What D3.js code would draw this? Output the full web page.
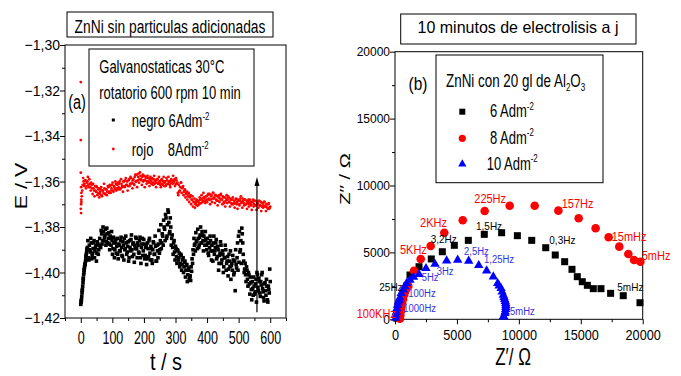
<!DOCTYPE html>
<html><head><meta charset="utf-8">
<script src="https://cdn.jsdelivr.net/npm/d3@7"></script>
<style>
body{margin:0;background:#fff}
svg{display:block}
text{font-family:"Liberation Sans",Arial,sans-serif}
</style>
</head><body>
<svg id="c" width="681" height="376"></svg>
<script>
// ---------------- DATA : panel (a) ----------------
const sampleStep = 3; // s between samples (main arrays at t = 0,3,..,600; half arrays at t = 1.5,4.5,..,598.5)
const blackE = [
-1.4140,-1.4105,-1.4060,-1.4010,-1.3975,-1.3950,-1.3915,-1.3890,-1.3935,-1.3880,
-1.3910,-1.3870,-1.3925,-1.3895,-1.3860,-1.3905,-1.3880,-1.3915,-1.3875,-1.3900,
-1.3850,-1.3890,-1.3830,-1.3860,-1.3820,-1.3845,-1.3810,-1.3865,-1.3830,-1.3850,
-1.3875,-1.3840,-1.3880,-1.3860,-1.3895,-1.3870,-1.3900,-1.3855,-1.3885,-1.3920,
-1.3875,-1.3905,-1.3860,-1.3890,-1.3930,-1.3880,-1.3850,-1.3895,-1.3870,-1.3910,
-1.3865,-1.3935,-1.3890,-1.3855,-1.3900,-1.3875,-1.3920,-1.3880,-1.3845,-1.3895,
-1.3870,-1.3910,-1.3860,-1.3935,-1.3890,-1.3850,-1.3905,-1.3875,-1.3925,-1.3880,
-1.3940,-1.3895,-1.3860,-1.3915,-1.3885,-1.3945,-1.3900,-1.3870,-1.3920,-1.3885,
-1.3950,-1.3905,-1.3875,-1.3915,-1.3860,-1.3895,-1.3830,-1.3880,-1.3800,-1.3860,
-1.3760,-1.3840,-1.3725,-1.3780,-1.3820,-1.3800,-1.3850,-1.3890,-1.3870,-1.3910,
-1.3885,-1.3930,-1.3900,-1.3945,-1.3915,-1.3960,-1.3925,-1.3965,-1.3935,-1.3975,
-1.3950,-1.3990,-1.3965,-1.4010,-1.3980,-1.4025,-1.4035,-1.3995,-1.3960,-1.3920,
-1.3880,-1.3905,-1.3860,-1.3895,-1.3850,-1.3880,-1.3835,-1.3870,-1.3820,-1.3860,
-1.3840,-1.3880,-1.3855,-1.3900,-1.3870,-1.3925,-1.3890,-1.3860,-1.3945,-1.3905,
-1.3870,-1.3920,-1.3890,-1.3855,-1.3930,-1.3900,-1.3960,-1.3915,-1.3880,-1.3945,
-1.3920,-1.3975,-1.3935,-1.3900,-1.3960,-1.3930,-1.3985,-1.3950,-1.3905,-1.3970,
-1.3990,-1.3945,-1.4000,-1.4080,-1.3965,-1.3935,-1.3990,-1.3955,-1.3910,-1.3860,
-1.3805,-1.3870,-1.3950,-1.3985,-1.4010,-1.3975,-1.4030,-1.4000,-1.4050,-1.4020,
-1.4075,-1.4040,-1.4100,-1.4060,-1.4085,-1.4030,-1.4000,-1.4065,-1.4025,-1.4090,
-1.4040,-1.4010,-1.4070,-1.4110,-1.4050,-1.4080,-1.4030,-1.4120,-1.4060,-1.4090,
-1.4040];
const blackHalfE = [
-1.4125,-1.4080,-1.4030,-1.3990,-1.3965,-1.3925,-1.3900,
-1.3860,-1.3945,-1.3900,-1.3850,-1.3940,-1.3915,-1.3870,-1.3935,-1.3890,-1.3950,-1.3865,-1.3920,-1.3880,
-1.3885,-1.3815,-1.3875,-1.3800,-1.3860,-1.3835,-1.3880,-1.3805,-1.3870,-1.3825,-1.3900,-1.3850,-1.3820,
-1.3920,-1.3845,-1.3935,-1.3870,-1.3915,-1.3850,-1.3940,-1.3880,-1.3905,-1.3845,
-1.3925,-1.3865,-1.3945,-1.3900,-1.3840,-1.3920,-1.3885,-1.3950,-1.3860,-1.3905,
-1.3835,-1.3930,-1.3870,-1.3955,-1.3895,-1.3850,-1.3935,-1.3880,-1.3915,-1.3845,
-1.3960,-1.3875,-1.3925,-1.3855,-1.3940,-1.3890,-1.3965,-1.3870,-1.3930,-1.3850,
-1.3945,-1.3895,-1.3960,-1.3865,-1.3920,-1.3840,-1.3950,-1.3880,-1.3935,-1.3815,
-1.3900,-1.3790,-1.3870,-1.3840,-1.3770,
-1.3810,-1.3745,-1.3850,-1.3790,-1.3735,-1.3830,-1.3760,-1.3880,-1.3835,
-1.3920,-1.3860,-1.3945,-1.3895,-1.3960,-1.3905,-1.3935,-1.3975,-1.3920,-1.3990,-1.3945,
-1.4000,-1.3955,-1.4020,-1.3970,-1.4040,-1.3990,-1.4030,-1.4015,-1.3975,-1.3940,
-1.3900,-1.3850,-1.3875,-1.3825,-1.3865,-1.3810,-1.3890,-1.3845,-1.3800,-1.3870,
-1.3835,-1.3905,-1.3860,-1.3820,-1.3880,-1.3850,-1.3915,-1.3870,-1.3840,-1.3905,
-1.3880,-1.3950,-1.3840,-1.3905,-1.3870,-1.3940,-1.3885,-1.3990,-1.3925,-1.3865,
-1.3960,-1.3905,-1.4000,-1.3935,-1.3880,-1.3990,-1.3950,-1.4015,-1.3920,-1.3975,
-1.4030,-1.3960,-1.3925,-1.4010,-1.3950,-1.3900,-1.3980,-1.3870,-1.3840,-1.3820,-1.3900,
-1.3960,-1.3830,-1.3920,-1.4000,-1.3960,-1.4040,-1.3990,-1.4060,-1.4010,-1.4095,
-1.4045,-1.4120,-1.4070,-1.4020,-1.4095,-1.4050,-1.4130,-1.4010,-1.4080,-1.4040,
-1.4105,-1.4055,-1.4000,-1.4085,-1.4125,-1.4045,-1.4100,-1.4060,-1.4130,-1.4075,-1.3985];
const redE = [
-1.3720,-1.3665,-1.3615,-1.3600,-1.3610,-1.3595,-1.3620,-1.3600,-1.3615,-1.3590,
-1.3625,-1.3605,-1.3630,-1.3610,-1.3640,-1.3620,-1.3645,-1.3625,-1.3650,-1.3630,
-1.3655,-1.3635,-1.3660,-1.3640,-1.3650,-1.3630,-1.3655,-1.3635,-1.3645,-1.3625,
-1.3650,-1.3620,-1.3640,-1.3615,-1.3640,-1.3620,-1.3635,-1.3610,-1.3630,-1.3605,
-1.3625,-1.3600,-1.3630,-1.3610,-1.3625,-1.3600,-1.3620,-1.3595,-1.3615,-1.3600,
-1.3620,-1.3590,-1.3610,-1.3585,-1.3605,-1.3595,-1.3610,-1.3580,-1.3600,-1.3570,
-1.3595,-1.3565,-1.3590,-1.3575,-1.3595,-1.3580,-1.3600,-1.3575,-1.3595,-1.3580,
-1.3600,-1.3585,-1.3605,-1.3590,-1.3600,-1.3585,-1.3605,-1.3590,-1.3610,-1.3595,
-1.3605,-1.3590,-1.3610,-1.3600,-1.3615,-1.3595,-1.3610,-1.3600,-1.3620,-1.3600,
-1.3615,-1.3595,-1.3610,-1.3600,-1.3615,-1.3605,-1.3595,-1.3610,-1.3600,-1.3590,
-1.3610,-1.3595,-1.3605,-1.3660,-1.3645,-1.3625,-1.3605,-1.3630,-1.3620,-1.3645,
-1.3635,-1.3655,-1.3645,-1.3665,-1.3650,-1.3670,-1.3660,-1.3680,-1.3665,-1.3690,
-1.3675,-1.3700,-1.3685,-1.3705,-1.3690,-1.3700,-1.3680,-1.3695,-1.3675,-1.3690,
-1.3670,-1.3685,-1.3665,-1.3680,-1.3660,-1.3675,-1.3655,-1.3680,-1.3660,-1.3675,
-1.3650,-1.3670,-1.3660,-1.3680,-1.3665,-1.3685,-1.3660,-1.3675,-1.3655,-1.3680,
-1.3665,-1.3690,-1.3670,-1.3685,-1.3660,-1.3680,-1.3670,-1.3690,-1.3675,-1.3695,
-1.3680,-1.3700,-1.3685,-1.3695,-1.3675,-1.3690,-1.3680,-1.3700,-1.3685,-1.3665,
-1.3690,-1.3675,-1.3695,-1.3680,-1.3700,-1.3685,-1.3695,-1.3680,-1.3700,-1.3690,
-1.3705,-1.3690,-1.3680,-1.3700,-1.3685,-1.3705,-1.3690,-1.3700,-1.3685,-1.3705,
-1.3690,-1.3710,-1.3695,-1.3705,-1.3690,-1.3710,-1.3700,-1.3715,-1.3700,-1.3720,
-1.3710];
const redHalfE = [
-1.3680,-1.3640,-1.3585,-1.3620,-1.3595,-1.3630,-1.3605,-1.3580,-1.3625,-1.3610,
-1.3640,-1.3615,-1.3655,-1.3630,-1.3665,-1.3640,-1.3620,-1.3660,-1.3635,-1.3670,
-1.3645,-1.3625,-1.3665,-1.3640,-1.3610,-1.3655,-1.3635,-1.3660,-1.3620,-1.3645,
-1.3615,-1.3650,-1.3630,-1.3605,-1.3645,-1.3625,-1.3600,-1.3640,-1.3615,-1.3635,
-1.3610,-1.3635,-1.3590,-1.3620,-1.3645,-1.3600,-1.3625,-1.3585,-1.3615,-1.3640,
-1.3595,-1.3620,-1.3580,-1.3610,-1.3630,-1.3590,-1.3615,-1.3570,-1.3600,-1.3625,
-1.3580,-1.3605,-1.3560,-1.3590,-1.3615,-1.3570,-1.3595,-1.3625,-1.3585,-1.3610,
-1.3575,-1.3600,-1.3620,-1.3580,-1.3610,-1.3590,-1.3615,-1.3575,-1.3600,-1.3625,
-1.3590,-1.3610,-1.3580,-1.3605,-1.3625,-1.3590,-1.3615,-1.3580,-1.3605,-1.3620,
-1.3585,-1.3610,-1.3580,-1.3600,-1.3625,-1.3590,-1.3605,-1.3575,-1.3600,-1.3620,
-1.3585,-1.3610,
-1.3650,-1.3615,-1.3640,-1.3605,-1.3650,-1.3625,-1.3660,-1.3640,-1.3670,-1.3650,
-1.3680,-1.3655,-1.3690,-1.3665,-1.3700,-1.3680,-1.3710,-1.3690,-1.3715,-1.3695,
-1.3680,-1.3705,
-1.3685,-1.3670,-1.3695,-1.3660,-1.3685,-1.3650,-1.3675,-1.3695,-1.3665,-1.3690,
-1.3655,-1.3680,-1.3700,-1.3665,-1.3690,-1.3650,-1.3675,-1.3695,-1.3660,-1.3685,
-1.3705,-1.3670,-1.3690,-1.3660,-1.3680,-1.3700,-1.3670,-1.3695,-1.3710,-1.3675,
-1.3695,-1.3665,-1.3690,-1.3710,-1.3680,-1.3700,-1.3670,-1.3695,-1.3715,-1.3680,
-1.3700,-1.3720,-1.3685,-1.3705,-1.3675,-1.3695,-1.3715,-1.3685,-1.3705,-1.3680,
-1.3700,-1.3720,-1.3690,-1.3710,-1.3680,-1.3700,-1.3725,-1.3690,-1.3710,-1.3685,
-1.3705,-1.3725,-1.3695,-1.3715,-1.3685,-1.3705,-1.3730,-1.3695,-1.3715,-1.3690,
-1.3710,-1.3730,-1.3700,-1.3720,-1.3695,-1.3715];
// extra points recorded at the start transient
const blackExtraT = [1,2,4,5,7,8,10,11,13,14,16,17,19,20];
const blackExtraE = [-1.4130,-1.4120,-1.4090,-1.4075,-1.4045,-1.4025,-1.4000,-1.3985,-1.3965,-1.3960,-1.3940,-1.3930,-1.3905,-1.3895];
const redExtraT = [0,0,0,1,1,1,2,2];
const redExtraE = [-1.3163,-1.3418,-1.3561,-1.3625,-1.3700,-1.3739,-1.3650,-1.3690];
const arrowT = 558;
const arrowE = [-1.4175, -1.3580];
const aXTicks = [0,100,200,300,400,500,600];
const aXMinor = [-50,50,150,250,350,450,550,650];
const aYTicks = [-1.42,-1.40,-1.38,-1.36,-1.34,-1.32,-1.30];
const aYMinor = [-1.41,-1.39,-1.37,-1.35,-1.33,-1.31];

// ---------------- DATA : panel (b) ----------------
const s6Re = [150,220,300,400,520,680,820,940,1210,1940,2930,3820,4790,5920,7210,8610,9880,11040,12170,12940,13700,14290,14720,15120,15530,16010,16630,17410,18430,19780];
const s6Im = [80,350,700,1050,1400,1800,2150,2490,3310,3930,4510,5050,5530,5900,6350,6470,6250,5900,5350,4805,4305,3735,3185,2810,2540,2290,2290,1940,1765,1240];
const s8Re = [400,430,470,520,580,650,750,880,1075,1534,2075,2880,3980,5470,7240,9260,11280,13190,14830,16200,17250,18110,18840,19300,19810];
const s8Im = [50,300,600,900,1200,1500,1850,2200,2490,3630,4510,5480,6470,7400,8090,8490,8490,8120,7550,6800,6130,5430,4880,4430,4305];
const s10Re = [60,80,110,150,200,270,340,400,500,670,800,940,1210,1500,1940,2500,3230,4170,5060,5950,6760,7400,7940,8290,8400,8560,8650,8740,8800,8850,8900,8940,8950,8950,8940,8900,8880,8800,8750];
const s10Im = [100,320,550,800,1070,1300,1440,1600,1940,2200,2440,2700,2940,3150,3360,3810,4130,4380,4430,4360,4035,3630,3185,2690,2500,2315,2050,1815,1650,1500,1350,1200,1050,900,750,570,450,180,200];
const bTicks = [0,5000,10000,15000,20000];
const bMinor = [2500,7500,12500,17500];
const redLabels = ["225Hz","157Hz","2KHz","5KHz","15mHz","5mHz","100KHz"];
const redLabRe = [6400,13460,2020,400,17500,19920,-3090];
const redLabIm = [8670,8320,6880,4880,5850,4430,100];
const blackLabels = ["1,5Hz","0,3Hz","3,2Hz","5mHz","25Hz"];
const blackLabRe = [6540,12460,2880,17950,-1270];
const blackLabIm = [6670,5630,5680,2140,2140];
const blueLabels = ["2,5Hz","1,25Hz","5Hz","3Hz","100Hz","1000Hz","5mHz"];
const blueLabRe = [5570,7190,2150,3370,1070,670,9285];
const blueLabIm = [4810,4190,2880,3310,1640,545,320];

// ---------------- DRAWING ----------------
const svg = d3.select("#c");
const RED = "#ff0000", BLUE = "#0000ff", BLUE_T = "#3333dd";

function stext(g, x, y, str, size, sy, anchor, fill, rot) {
  let tr = `translate(${x},${y})`;
  tr += rot ? ` rotate(${rot}) scale(${sy},1)` : ` scale(1,${sy})`;
  const t = g.append("text").attr("transform", tr)
    .attr("font-size", size).attr("text-anchor", anchor || "start")
    .attr("fill", fill || "#000");
  const parts = str.split(/(\^\{[^}]*\}|_\{[^}]*\})/).filter(s => s.length);
  let shift = 0;
  parts.forEach(p => {
    let target = 0, txt = p, small = false;
    if (p.startsWith("^{")) { target = -size * 0.42; txt = p.slice(2, -1); small = true; }
    else if (p.startsWith("_{")) { target = size * 0.25; txt = p.slice(2, -1); small = true; }
    const ts = t.append("tspan").text(txt).attr("dy", target - shift);
    if (small) ts.attr("font-size", size * 0.6);
    shift = target;
  });
  return t;
}
function stretchTicks(sel, sy) {
  sel.selectAll(".tick text").each(function () {
    const t = d3.select(this);
    const x = +t.attr("x") || 0, y = +t.attr("y") || 0;
    t.attr("transform", `translate(${x},${y}) scale(1,${sy})`).attr("x", 0).attr("y", 0);
  });
}

// ===== Panel (a) =====
const ax = d3.scaleLinear().domain([-50, 650]).range([65, 286]);
const ay = d3.scaleLinear().domain([-1.42, -1.30]).range([318, 45]);
const ga = svg.append("g");
const commaFmt = d => d3.format(".2f")(d).replace(".", ",");

const axb = ga.append("g").attr("transform", "translate(0,318)")
  .call(d3.axisBottom(ax).tickValues(aXTicks).tickSize(5).tickPadding(8.7).tickSizeOuter(0).tickFormat(d3.format("d")));
axb.selectAll("text").attr("font-size", 12.5).attr("fill", "#000").style("font-family", "Liberation Sans, Arial");
stretchTicks(axb, 1.42);
ga.append("g").attr("transform", "translate(0,318)")
  .call(d3.axisBottom(ax).tickValues(aXMinor).tickSize(3).tickFormat("").tickSizeOuter(0));
const ayl = ga.append("g").attr("transform", "translate(65,0)")
  .call(d3.axisLeft(ay).tickValues(aYTicks).tickSize(5).tickPadding(0).tickSizeOuter(0).tickFormat(commaFmt));
ayl.selectAll("text").attr("font-size", 14).attr("fill", "#000").style("font-family", "Liberation Sans, Arial");
stretchTicks(ayl, 1.05);
ga.append("g").attr("transform", "translate(65,0)")
  .call(d3.axisLeft(ay).tickValues(aYMinor).tickSize(3).tickFormat("").tickSizeOuter(0));
ga.selectAll(".domain").remove();
ga.selectAll(".tick line").attr("stroke", "#000");
ga.append("rect").attr("x", 65).attr("y", 45).attr("width", 221).attr("height", 273)
  .attr("fill", "none").attr("stroke", "#000").attr("stroke-width", 1);

// series
const blackPts = blackE.map((e, i) => [i * sampleStep, e])
  .concat(blackHalfE.map((e, i) => [i * sampleStep + sampleStep / 2, e]))
  .concat(blackExtraT.map((t, i) => [t, blackExtraE[i]]));
const redPts = redE.map((e, i) => [i * sampleStep, e])
  .concat(redHalfE.map((e, i) => [i * sampleStep + sampleStep / 2, e]))
  .concat(redExtraT.map((t, i) => [t, redExtraE[i]]));
ga.append("g").selectAll("rect").data(blackPts).join("rect")
  .attr("x", d => ax(d[0]) - 1.8).attr("y", d => ay(d[1]) - 1.8)
  .attr("width", 3.6).attr("height", 3.6).attr("fill", "#000");
ga.append("g").selectAll("circle").data(redPts).join("circle")
  .attr("cx", d => ax(d[0])).attr("cy", d => ay(d[1])).attr("r", 1.4).attr("fill", RED);

// arrow
ga.append("line").attr("x1", ax(arrowT)).attr("x2", ax(arrowT))
  .attr("y1", ay(arrowE[0])).attr("y2", ay(arrowE[1]) + 6)
  .attr("stroke", "#000").attr("stroke-width", 1.2);
ga.append("path")
  .attr("d", `M${ax(arrowT)},${ay(arrowE[1])} l-2.5,9 l5,0 z`).attr("fill", "#000");

// title (a)
ga.append("rect").attr("x", 67).attr("y", 12).attr("width", 206).attr("height", 25)
  .attr("fill", "#fff").attr("stroke", "#000");
stext(ga, 170, 33.3, "ZnNi sin particulas adicionadas", 13.8, 1.29, "middle");
// legend (a)
ga.append("rect").attr("x", 89).attr("y", 49).attr("width", 165).attr("height", 117)
  .attr("fill", "#fff").attr("stroke", "#000");
stext(ga, 99.3, 73.3, "Galvanostaticas 30°C", 13, 1.36);
stext(ga, 99.3, 99.3, "rotatorio 600 rpm 10 min", 13, 1.36);
ga.append("rect").attr("x", 111.8).attr("y", 118.5).attr("width", 3).attr("height", 3).attr("fill", "#000");
stext(ga, 131.7, 127.3, "negro 6Adm^{-2}", 13, 1.36);
ga.append("circle").attr("cx", 113.3).attr("cy", 149).attr("r", 1.4).attr("fill", RED);
stext(ga, 131.7, 156, "rojo\u00a0\u00a0\u00a0 8Adm^{-2}", 13, 1.36);
stext(ga, 77, 109, "(a)", 14.5, 1.35, "middle");
// axis titles (a)
stext(ga, 166, 370, "t / s", 20, 1.18, "middle");
stext(ga, 27, 186, "E / V", 16.5, 1.3, "middle", "#000", -90);

// ===== Panel (b) =====
const bx = d3.scaleLinear().domain([0, 20000]).range([395, 642.7]);
const by = d3.scaleLinear().domain([0, 20000]).range([319.3, 51.7]);
const gb = svg.append("g");
const bxb = gb.append("g").attr("transform", "translate(0,319.3)")
  .call(d3.axisBottom(bx).tickValues(bTicks).tickSize(5).tickPadding(5.7).tickSizeOuter(0).tickFormat(d3.format("d")));
bxb.selectAll("text").attr("font-size", 12.7).attr("fill", "#000").style("font-family", "Liberation Sans, Arial");
stretchTicks(bxb, 1.1);
gb.append("g").attr("transform", "translate(0,319.3)")
  .call(d3.axisBottom(bx).tickValues(bMinor).tickSize(3).tickFormat("").tickSizeOuter(0));
const byl = gb.append("g").attr("transform", "translate(395,0)")
  .call(d3.axisLeft(by).tickValues(bTicks).tickSize(5).tickPadding(0).tickSizeOuter(0).tickFormat(d3.format("d")));
byl.selectAll("text").attr("font-size", 12).attr("fill", "#000").style("font-family", "Liberation Sans, Arial");
gb.append("g").attr("transform", "translate(395,0)")
  .call(d3.axisLeft(by).tickValues(bMinor).tickSize(3).tickFormat("").tickSizeOuter(0));
gb.selectAll(".domain").remove();
gb.selectAll(".tick line").attr("stroke", "#000");
gb.append("rect").attr("x", 395).attr("y", 51.7).attr("width", 247.7).attr("height", 267.6)
  .attr("fill", "none").attr("stroke", "#000");

const s6 = s6Re.map((r, i) => [r, s6Im[i]]);
const s8 = s8Re.map((r, i) => [r, s8Im[i]]);
const s10 = s10Re.map((r, i) => [r, s10Im[i]]);
gb.append("g").selectAll("rect").data(s6).join("rect")
  .attr("x", d => bx(d[0]) - 3.5).attr("y", d => by(d[1]) - 3.5)
  .attr("width", 7).attr("height", 7).attr("fill", "#000");
gb.append("g").selectAll("circle").data(s8).join("circle")
  .attr("cx", d => bx(d[0])).attr("cy", d => by(d[1])).attr("r", 4.3).attr("fill", RED);
const tri = d3.symbol(d3.symbolTriangle, 38);
gb.append("g").selectAll("path").data(s10).join("path")
  .attr("d", tri).attr("transform", d => `translate(${bx(d[0])},${by(d[1])})`).attr("fill", BLUE);

redLabels.forEach((l, i) => stext(gb, bx(redLabRe[i]), by(redLabIm[i]), l, 11, 1.15, "start", RED));
blackLabels.forEach((l, i) => stext(gb, bx(blackLabRe[i]), by(blackLabIm[i]), l, 10, 1.1, "start", "#000"));
blueLabels.forEach((l, i) => stext(gb, bx(blueLabRe[i]), by(blueLabIm[i]), l, 9.5, 1.1, "start", BLUE_T));

gb.append("rect").attr("x", 400.7).attr("y", 14).attr("width", 235.3).attr("height", 30)
  .attr("fill", "#fff").attr("stroke", "#000");
stext(gb, 518, 33.3, "10 minutos de electrolisis a j", 16, 1.03, "middle");
gb.append("rect").attr("x", 436).attr("y", 55).attr("width", 167).attr("height", 127.7)
  .attr("fill", "#fff").attr("stroke", "#000");
stext(gb, 446, 86.7, "ZnNi con 20 gl de Al_{2}O_{3}", 13.4, 1.39);
gb.append("rect").attr("x", 459.3).attr("y", 108.7).attr("width", 6).attr("height", 6).attr("fill", "#000");
stext(gb, 490, 117.3, "6 Adm^{-2}", 13, 1.4);
gb.append("circle").attr("cx", 462.3).attr("cy", 138.3).attr("r", 3.6).attr("fill", RED);
stext(gb, 490, 144, "8 Adm^{-2}", 13, 1.4);
gb.append("path").attr("d", d3.symbol(d3.symbolTriangle, 30)).attr("transform", "translate(462.3,164)").attr("fill", BLUE);
stext(gb, 486.7, 170, "10 Adm^{-2}", 13, 1.4);
stext(gb, 418, 89.5, "(b)", 15.5, 1.15, "middle");
stext(gb, 513, 365, "Z\u2032/ \u03a9", 17, 1.37, "middle");
stext(gb, 350, 179, "Z\u2032\u2032 / \u03a9", 14, 1.44, "middle", "#000", -90);
</script>
</body></html>
